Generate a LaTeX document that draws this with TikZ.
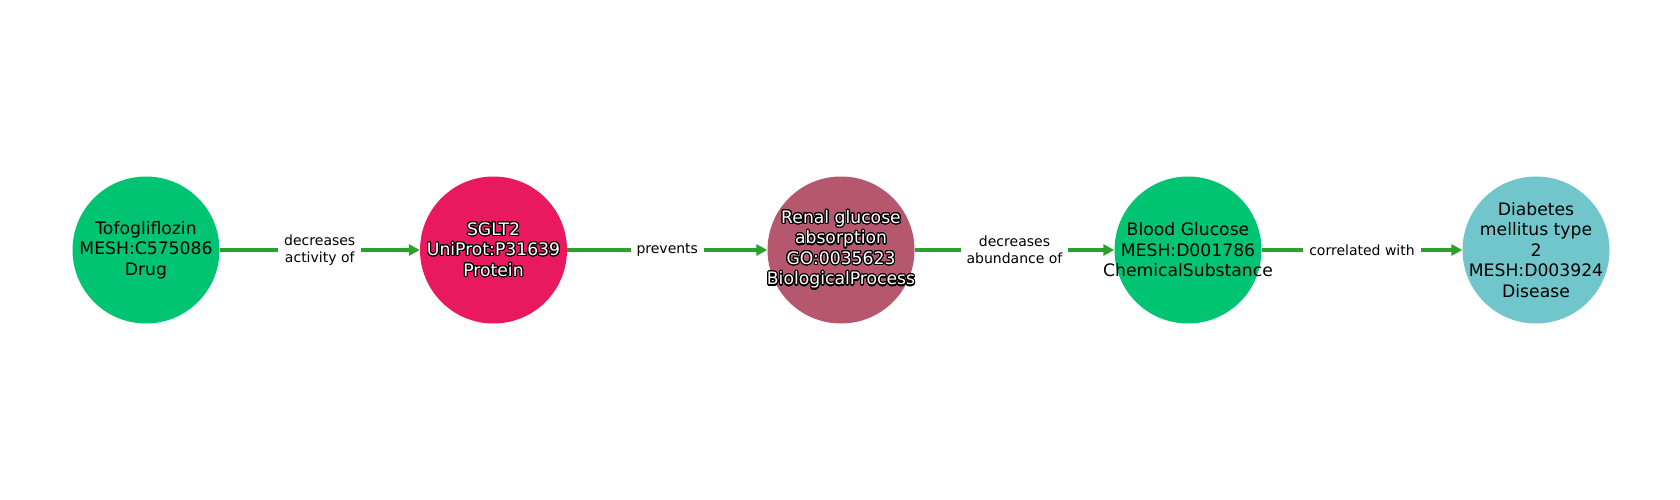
\documentclass[tikz,border=0pt]{standalone}
\usepackage{fontspec}
\setmainfont{DejaVu Sans}
\usepackage{contour}
\contourlength{1.1pt}
\contournumber{24}
\usetikzlibrary{arrows.meta}
\definecolor{cgreen}{RGB}{0,196,114}
\definecolor{cpink}{RGB}{232,25,94}
\definecolor{cmauve}{RGB}{181,88,110}
\definecolor{cteal}{RGB}{112,198,203}
\definecolor{egreen}{RGB}{44,160,44}
\newcommand{\wt}[1]{\contour{black}{\textcolor{white}{#1}}}
\tikzset{
  ent/.style={circle, minimum size=147pt, inner sep=0pt},
  etxt/.style={align=center, inner sep=0pt,
    font=\fontsize{17.2}{20.5}\selectfont},
  rel/.style={draw=egreen, line width=3.5pt,
    -{Triangle[length=11pt,width=11pt]}},
  lbl/.style={fill=white, inner xsep=6pt, inner ysep=3pt, align=center,
    font=\fontsize{14}{16.5}\selectfont, text=black}
}
\begin{document}
\begin{tikzpicture}[x=1pt,y=-1pt]
\useasboundingbox (0,0) rectangle (1680,500);
\node[ent, fill=cgreen] (a) at (146,250) {};
\node[ent, fill=cpink] (b) at (493.5,250) {};
\node[ent, fill=cmauve] (c) at (841,250) {};
\node[ent, fill=cgreen] (d) at (1188,250) {};
\node[ent, fill=cteal] (e) at (1536,250) {};
\node[etxt] (ta) at (a) {Tofogliflozin\\MESH:C575086\\Drug};
\node[etxt] (tb) at (b) {\wt{SGLT2}\\\wt{UniProt:P31639}\\\wt{Protein}};
\node[etxt] (tc) at (c) {\wt{Renal glucose}\\\wt{absorption}\\\wt{GO:0035623}\\\wt{BiologicalProcess}};
\node[etxt] (td) at (d) {Blood Glucose\\MESH:D001786\\ChemicalSubstance};
\node[etxt] (te) at (e) {Diabetes\\mellitus type\\2\\MESH:D003924\\Disease};
\draw[rel] (a) -- node[lbl] {decreases\\activity of} (b);
\draw[rel] (b) -- node[lbl] {prevents} (c);
\draw[rel] (c) -- node[lbl] {decreases\\abundance of} (d);
\draw[rel] (d) -- node[lbl] {correlated with} (e);
\end{tikzpicture}
\end{document}
